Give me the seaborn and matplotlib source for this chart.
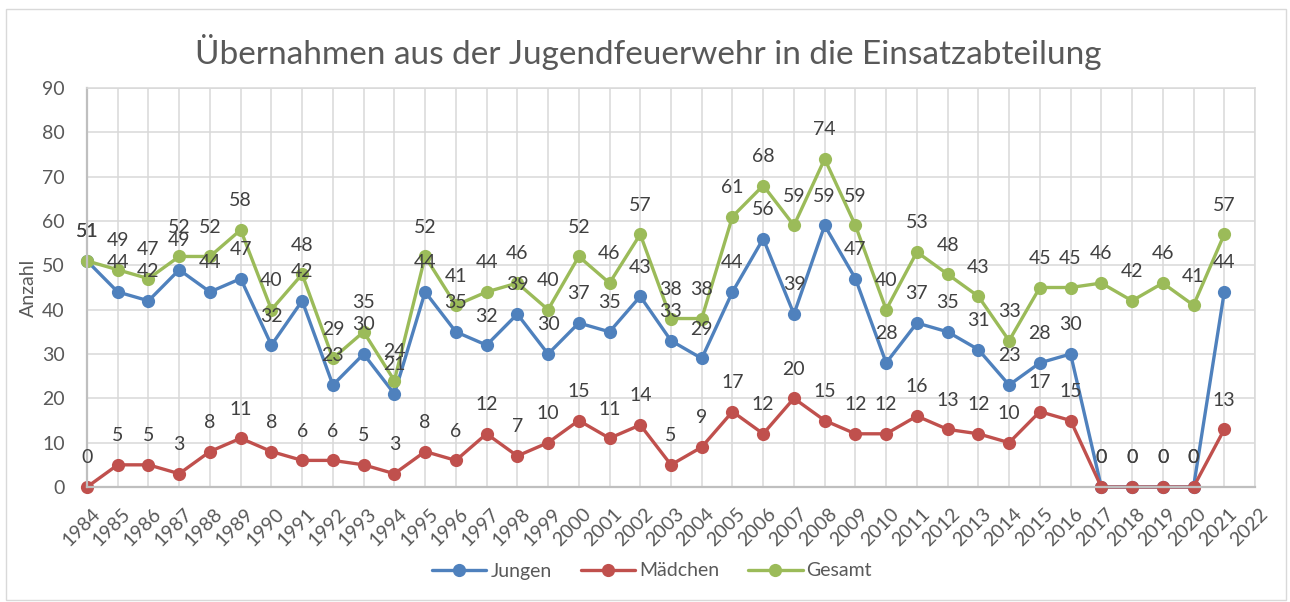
import numpy as np
import pandas as pd
import matplotlib
matplotlib.use("Agg")
import matplotlib.pyplot as plt
import matplotlib.transforms as mtransforms
from matplotlib.patches import Rectangle
import seaborn as sns

jahre = list(range(1984, 2022))
jungen = [51, 44, 42, 49, 44, 47, 32, 42, 23, 30, 21, 44, 35, 32, 39, 30, 37, 35, 43, 33,
          29, 44, 56, 39, 59, 47, 28, 37, 35, 31, 23, 28, 30, 0, 0, 0, 0, 44]
maedchen = [0, 5, 5, 3, 8, 11, 8, 6, 6, 5, 3, 8, 6, 12, 7, 10, 15, 11, 14, 5,
            9, 17, 12, 20, 15, 12, 12, 16, 13, 12, 10, 17, 15, 0, 0, 0, 0, 13]
gesamt = [51, 49, 47, 52, 52, 58, 40, 48, 29, 35, 24, 52, 41, 44, 46, 40, 52, 46, 57, 38,
          38, 61, 68, 59, 74, 59, 40, 53, 48, 43, 33, 45, 45, 46, 42, 46, 41, 57]
x_ticks = list(range(1984, 2023))
y_ticks = list(range(0, 100, 10))

serien = ["Jungen", "Mädchen", "Gesamt"]
farben = {"Jungen": "#4F81BD", "Mädchen": "#C0504D", "Gesamt": "#9BBB59"}

df = pd.DataFrame({"Jahr": jahre, "Jungen": jungen, "Mädchen": maedchen, "Gesamt": gesamt})
long = df.melt(id_vars="Jahr", var_name="Serie", value_name="Anzahl")

sns.set_style("white")
plt.rcParams["font.family"] = ["Lato", "DejaVu Sans"]

W, H = 1290, 602
fig = plt.figure(figsize=(W / 100, H / 100), dpi=100)
ax = fig.add_axes([87 / W, 1 - 487 / H, (1255 - 87) / W, (487 - 88) / H])

sns.lineplot(data=long, x="Jahr", y="Anzahl", hue="Serie", hue_order=serien,
             palette=farben, marker="o", markersize=9.5, markeredgewidth=0,
             linewidth=2.4, legend=False, ax=ax)
for line in ax.get_lines():
    line.set_clip_on(False)

# Datenbeschriftungen
for s in serien:
    for j, v in zip(df["Jahr"], df[s]):
        ax.annotate(str(v), (j, v), xytext=(0, 17), textcoords="offset points",
                    ha="center", va="baseline", fontsize=14, color="#404040", zorder=5)

ax.set_xlim(1984, 2022)
ax.set_ylim(0, 90)
ax.set_xticks(x_ticks)
ax.set_yticks(y_ticks)
ax.set_xticklabels([str(t) for t in x_ticks], rotation=45, ha="right",
                   rotation_mode="anchor", fontsize=14, color="#595959")
ax.set_yticklabels([str(t) for t in y_ticks], fontsize=14, color="#595959")
ax.tick_params(axis="both", length=0)
ax.tick_params(axis="y", pad=16)
ax.tick_params(axis="x", pad=13)
shift = mtransforms.ScaledTranslation(4 / 100, 0, fig.dpi_scale_trans)
for lbl in ax.get_xticklabels():
    lbl.set_transform(lbl.get_transform() + shift)

ax.grid(True, color="#D9D9D9", linewidth=1.1)
ax.set_axisbelow(True)
for side in ["top", "right"]:
    ax.spines[side].set_color("#D9D9D9")
    ax.spines[side].set_linewidth(1.1)
for side in ["left", "bottom"]:
    ax.spines[side].set_color("#BFBFBF")
    ax.spines[side].set_linewidth(1.6)

ax.set_xlabel("")
ax.set_ylabel("")
fig.text(28 / W, 1 - 288 / H, "Anzahl", rotation=90, ha="center", va="center",
         fontsize=14, color="#595959")

fig.text(648 / W, 1 - 52 / H, "Übernahmen aus der Jugendfeuerwehr in die Einsatzabteilung",
         ha="center", va="center", fontsize=24, color="#595959")

handles = ax.get_lines()[:3]
fig.legend(handles, serien, loc="center", bbox_to_anchor=(652 / W, 1 - 571 / H),
           ncol=3, frameon=False, fontsize=14, handlelength=2.8, handletextpad=0.2,
           columnspacing=1.5, labelcolor="#595959")

fig.patches.append(Rectangle((6 / W, 2 / H), (1286 - 6) / W, (H - 11) / H,
                             transform=fig.transFigure, fill=False,
                             edgecolor="#D9D9D9", linewidth=1))

fig.savefig("out.png", dpi=100)
